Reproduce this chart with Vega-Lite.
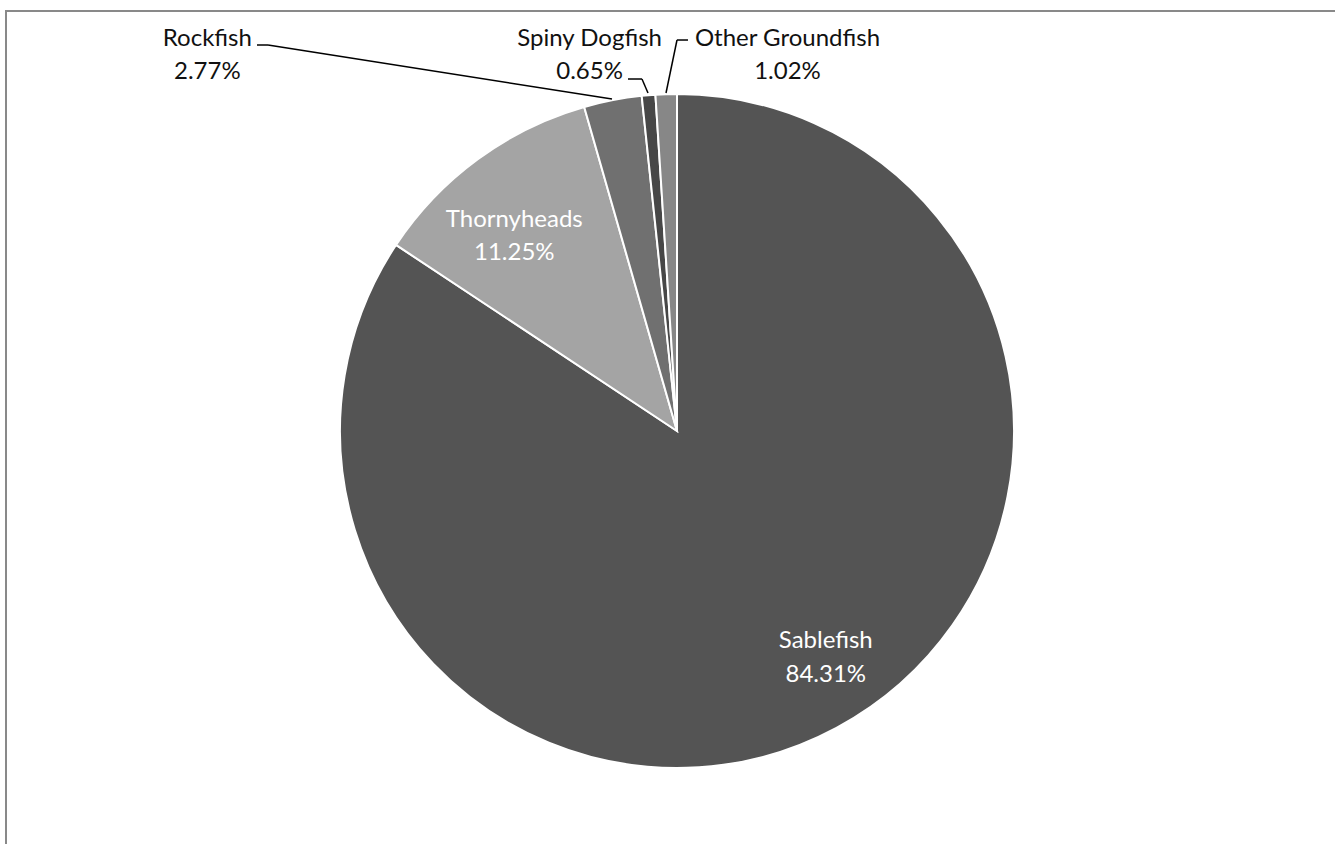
{
  "$schema": "https://vega.github.io/schema/vega-lite/v6.json",
  "width": 1342,
  "height": 840,
  "autosize": {"type": "none"},
  "padding": {"left": 6, "top": 11, "right": -13, "bottom": -7},
  "background": "white",
  "config": {
    "view": {"stroke": "#898989", "strokeWidth": 2},
    "text": {"font": "Lato"}
  },
  "data": {
    "values": [
      {"species": "Sablefish", "share": 0.8431, "ord": 1},
      {"species": "Thornyheads", "share": 0.1125, "ord": 2},
      {"species": "Rockfish", "share": 0.0277, "ord": 3},
      {"species": "Spiny Dogfish", "share": 0.0065, "ord": 4},
      {"species": "Other Groundfish", "share": 0.0102, "ord": 5}
    ]
  },
  "layer": [
    {
      "mark": {"type": "arc", "outerRadius": 337, "stroke": "white", "strokeWidth": 2},
      "encoding": {
        "theta": {"field": "share", "type": "quantitative", "stack": true},
        "order": {"field": "ord", "type": "quantitative"},
        "color": {
          "field": "species",
          "type": "nominal",
          "scale": {
            "domain": ["Sablefish", "Thornyheads", "Rockfish", "Spiny Dogfish", "Other Groundfish"],
            "range": ["#545454", "#a4a4a4", "#707070", "#474747", "#878787"]
          },
          "legend": null
        }
      }
    },
    {
      "mark": {"type": "text", "radius": 270, "dx": 21, "dy": -21, "fontSize": 24, "color": "white", "align": "center", "baseline": "alphabetic"},
      "encoding": {
        "theta": {"field": "share", "type": "quantitative", "stack": true},
        "order": {"field": "ord", "type": "quantitative"},
        "text": {"condition": {"test": "datum.species === 'Sablefish'", "field": "species", "type": "nominal"}, "value": ""}
      }
    },
    {
      "mark": {"type": "text", "radius": 270, "dx": 21, "dy": 13, "fontSize": 24, "color": "white", "align": "center", "baseline": "alphabetic"},
      "encoding": {
        "theta": {"field": "share", "type": "quantitative", "stack": true},
        "order": {"field": "ord", "type": "quantitative"},
        "text": {"condition": {"test": "datum.species === 'Sablefish'", "field": "share", "type": "quantitative", "format": ".2%"}, "value": ""}
      }
    },
    {
      "mark": {"type": "text", "radius": 255, "dx": -12, "dy": 2, "fontSize": 24, "color": "white", "align": "center", "baseline": "alphabetic"},
      "encoding": {
        "theta": {"field": "share", "type": "quantitative", "stack": true},
        "order": {"field": "ord", "type": "quantitative"},
        "text": {"condition": {"test": "datum.species === 'Thornyheads'", "field": "species", "type": "nominal"}, "value": ""}
      }
    },
    {
      "mark": {"type": "text", "radius": 255, "dx": -12, "dy": 35, "fontSize": 24, "color": "white", "align": "center", "baseline": "alphabetic"},
      "encoding": {
        "theta": {"field": "share", "type": "quantitative", "stack": true},
        "order": {"field": "ord", "type": "quantitative"},
        "text": {"condition": {"test": "datum.species === 'Thornyheads'", "field": "share", "type": "quantitative", "format": ".2%"}, "value": ""}
      }
    },
    {
      "mark": {"type": "text", "radius": 360, "dx": -401, "dy": -32, "fontSize": 24, "color": "#111111", "align": "center", "baseline": "alphabetic"},
      "encoding": {
        "theta": {"field": "share", "type": "quantitative", "stack": true},
        "order": {"field": "ord", "type": "quantitative"},
        "text": {"condition": {"test": "datum.species === 'Rockfish'", "field": "species", "type": "nominal"}, "value": ""}
      }
    },
    {
      "mark": {"type": "text", "radius": 360, "dx": -401, "dy": 1, "fontSize": 24, "color": "#111111", "align": "center", "baseline": "alphabetic"},
      "encoding": {
        "theta": {"field": "share", "type": "quantitative", "stack": true},
        "order": {"field": "ord", "type": "quantitative"},
        "text": {"condition": {"test": "datum.species === 'Rockfish'", "field": "share", "type": "quantitative", "format": ".2%"}, "value": ""}
      }
    },
    {
      "mark": {"type": "text", "radius": 360, "dx": -57, "dy": -26, "fontSize": 24, "color": "#111111", "align": "center", "baseline": "alphabetic"},
      "encoding": {
        "theta": {"field": "share", "type": "quantitative", "stack": true},
        "order": {"field": "ord", "type": "quantitative"},
        "text": {"condition": {"test": "datum.species === 'Spiny Dogfish'", "field": "species", "type": "nominal"}, "value": ""}
      }
    },
    {
      "mark": {"type": "text", "radius": 360, "dx": -57, "dy": 7, "fontSize": 24, "color": "#111111", "align": "center", "baseline": "alphabetic"},
      "encoding": {
        "theta": {"field": "share", "type": "quantitative", "stack": true},
        "order": {"field": "ord", "type": "quantitative"},
        "text": {"condition": {"test": "datum.species === 'Spiny Dogfish'", "field": "share", "type": "quantitative", "format": ".2%"}, "value": ""}
      }
    },
    {
      "mark": {"type": "text", "radius": 360, "dx": 122, "dy": -25, "fontSize": 24, "color": "#111111", "align": "center", "baseline": "alphabetic"},
      "encoding": {
        "theta": {"field": "share", "type": "quantitative", "stack": true},
        "order": {"field": "ord", "type": "quantitative"},
        "text": {"condition": {"test": "datum.species === 'Other Groundfish'", "field": "species", "type": "nominal"}, "value": ""}
      }
    },
    {
      "mark": {"type": "text", "radius": 360, "dx": 122, "dy": 8, "fontSize": 24, "color": "#111111", "align": "center", "baseline": "alphabetic"},
      "encoding": {
        "theta": {"field": "share", "type": "quantitative", "stack": true},
        "order": {"field": "ord", "type": "quantitative"},
        "text": {"condition": {"test": "datum.species === 'Other Groundfish'", "field": "share", "type": "quantitative", "format": ".2%"}, "value": ""}
      }
    },
    {
      "data": {"values": [{}]},
      "mark": {"type": "rule", "color": "black", "strokeWidth": 1.5},
      "encoding": {
        "x": {"datum": -1.2463, "type": "quantitative", "scale": {"domain": [-1.9911, 1.9911], "nice": false, "zero": false}, "axis": null},
        "y": {"datum": 1.1454, "type": "quantitative", "scale": {"domain": [-1.2463, 1.2463], "nice": false, "zero": false}, "axis": null},
        "x2": {"datum": -1.2136},
        "y2": {"datum": 1.1454}
      }
    },
    {
      "data": {"values": [{}]},
      "mark": {"type": "rule", "color": "black", "strokeWidth": 1.5},
      "encoding": {
        "x": {"datum": -1.2136, "type": "quantitative", "scale": {"domain": [-1.9911, 1.9911], "nice": false, "zero": false}, "axis": null},
        "y": {"datum": 1.1454, "type": "quantitative", "scale": {"domain": [-1.2463, 1.2463], "nice": false, "zero": false}, "axis": null},
        "x2": {"datum": -0.1929},
        "y2": {"datum": 0.9852}
      }
    },
    {
      "data": {"values": [{}]},
      "mark": {"type": "rule", "color": "black", "strokeWidth": 1.5},
      "encoding": {
        "x": {"datum": -0.1454, "type": "quantitative", "scale": {"domain": [-1.9911, 1.9911], "nice": false, "zero": false}, "axis": null},
        "y": {"datum": 1.0445, "type": "quantitative", "scale": {"domain": [-1.2463, 1.2463], "nice": false, "zero": false}, "axis": null},
        "x2": {"datum": -0.1039},
        "y2": {"datum": 1.0445}
      }
    },
    {
      "data": {"values": [{}]},
      "mark": {"type": "rule", "color": "black", "strokeWidth": 1.5},
      "encoding": {
        "x": {"datum": -0.1039, "type": "quantitative", "scale": {"domain": [-1.9911, 1.9911], "nice": false, "zero": false}, "axis": null},
        "y": {"datum": 1.0445, "type": "quantitative", "scale": {"domain": [-1.2463, 1.2463], "nice": false, "zero": false}, "axis": null},
        "x2": {"datum": -0.0861},
        "y2": {"datum": 1.0030}
      }
    },
    {
      "data": {"values": [{}]},
      "mark": {"type": "rule", "color": "black", "strokeWidth": 1.5},
      "encoding": {
        "x": {"datum": 0.0326, "type": "quantitative", "scale": {"domain": [-1.9911, 1.9911], "nice": false, "zero": false}, "axis": null},
        "y": {"datum": 1.1602, "type": "quantitative", "scale": {"domain": [-1.2463, 1.2463], "nice": false, "zero": false}, "axis": null},
        "x2": {"datum": 0.0},
        "y2": {"datum": 1.1602}
      }
    },
    {
      "data": {"values": [{}]},
      "mark": {"type": "rule", "color": "black", "strokeWidth": 1.5},
      "encoding": {
        "x": {"datum": 0.0, "type": "quantitative", "scale": {"domain": [-1.9911, 1.9911], "nice": false, "zero": false}, "axis": null},
        "y": {"datum": 1.1602, "type": "quantitative", "scale": {"domain": [-1.2463, 1.2463], "nice": false, "zero": false}, "axis": null},
        "x2": {"datum": -0.0326},
        "y2": {"datum": 1.0030}
      }
    }
  ]
}
